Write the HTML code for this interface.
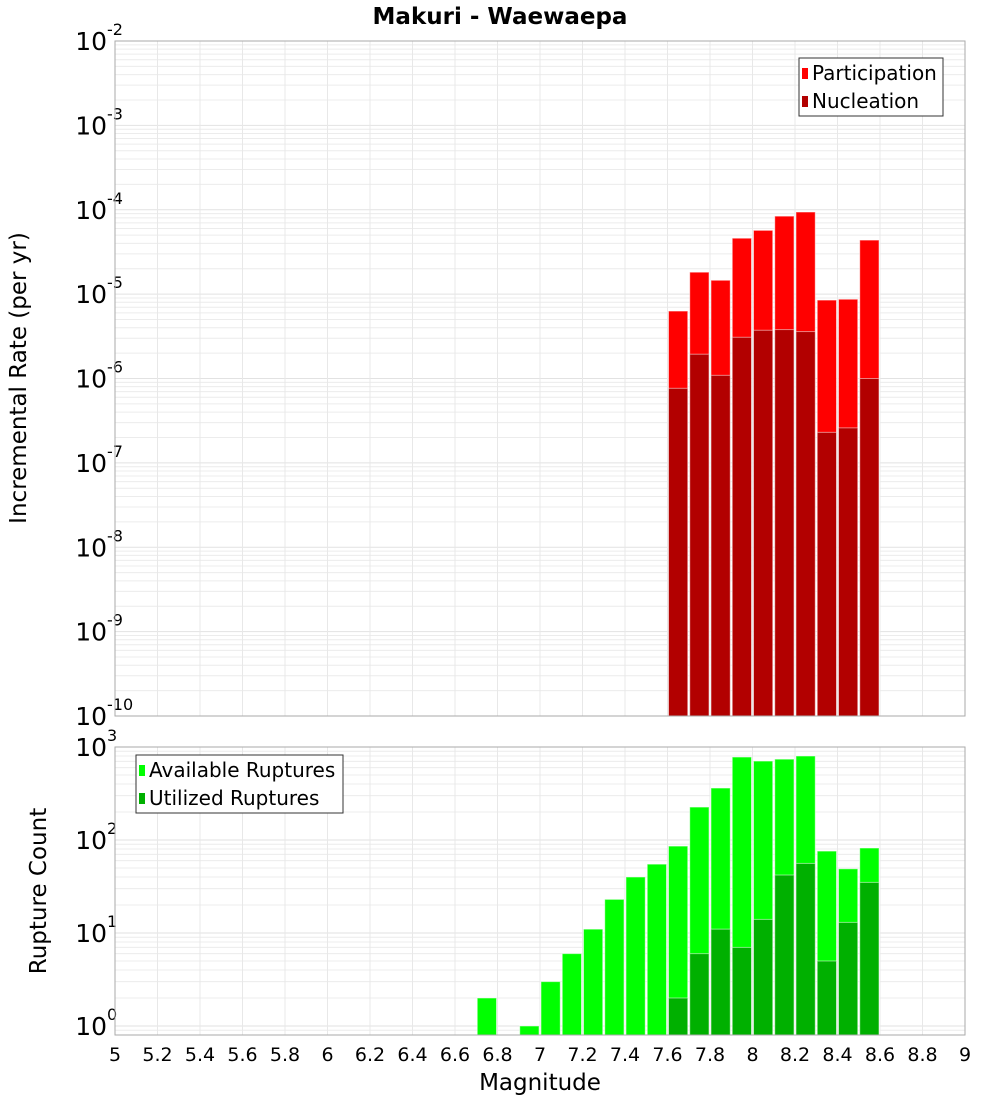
<!DOCTYPE html>
<html><head><meta charset="utf-8"><style>
body{margin:0;background:#fff;}
svg{display:block;font-family:"DejaVu Sans","Liberation Sans",sans-serif;}
</style></head><body>
<svg id="c" width="1000" height="1100" viewBox="0 0 1000 1100" xmlns="http://www.w3.org/2000/svg">
<text x="500" y="24" text-anchor="middle" font-size="23" font-weight="bold">Makuri - Waewaepa</text>
<text transform="translate(26,378) rotate(-90)" text-anchor="middle" font-size="23">Incremental Rate (per yr)</text>
<text transform="translate(46,891) rotate(-90)" text-anchor="middle" font-size="23">Rupture Count</text>
<text x="540" y="1090" text-anchor="middle" font-size="23">Magnitude</text>
<g id="top"></g><g id="bot"></g>
</svg>
<script>
const bins=[7.6,7.7,7.8,7.9,8.0,8.1,8.2,8.3,8.4,8.5];
const participation=[6.3e-6,1.82e-5,1.46e-5,4.6e-5,5.7e-5,8.4e-5,9.4e-5,8.5e-6,8.7e-6,4.37e-5];
const nucleation=[7.65e-7,1.94e-6,1.09e-6,3.08e-6,3.73e-6,3.8e-6,3.6e-6,2.3e-7,2.6e-7,1.0e-6];
const countBins=[6.7,6.9,7.0,7.1,7.2,7.3,7.4,7.5,7.6,7.7,7.8,7.9,8.0,8.1,8.2,8.3,8.4,8.5];
const available=[2,1,3,6,11,23,40,55,86,226,362,780,706,740,800,76,49,82];
const utilBins=[7.6,7.7,7.8,7.9,8.0,8.1,8.2,8.3,8.4,8.5];
const utilized=[2,6,11,7,14,42,56,5,13,35];
const xTicks=[5,5.2,5.4,5.6,5.8,6,6.2,6.4,6.6,6.8,7,7.2,7.4,7.6,7.8,8,8.2,8.4,8.6,8.8,9];
const topExp=[-2,-3,-4,-5,-6,-7,-8,-9,-10];
const botExp=[3,2,1,0];

const NS="http://www.w3.org/2000/svg";
const L=115,R=965;
const x=m=>L+(m-5)/4*(R-L);
function el(p,t,a){const e=document.createElementNS(NS,t);for(const k in a)e.setAttribute(k,a[k]);p.appendChild(e);return e;}
function panel(g,top,bot,yFn,loE,hiE,exps,name){
  for(let e=loE;e<hiE;e++)for(let k=1;k<10;k++){const yy=yFn(k*Math.pow(10,e));if(yy<top-0.5||yy>bot+0.5)continue;
    const ln=el(g,'line',{x1:L,x2:R,y1:yy,y2:yy,stroke:k==1?'#e2e2e2':'#ececec','stroke-width':1});
    }
  xTicks.forEach(t=>{const ln=el(g,'line',{x1:x(t),x2:x(t),y1:top,y2:bot,stroke:'#e8e8e8'});
    });
  exps.forEach(e=>{const yy=yFn(Math.pow(10,e));
    const t=el(g,'text',{x:107,y:yy+9,'text-anchor':'end','font-size':25});
    
    t.textContent='10';
    const s=el(g,'text',{x:107,y:yy-6,'font-size':16});
    
    s.textContent=String(e);});
}
function bars(g,bs,vals,yFn,base,color,name){
  bs.forEach((b,i)=>{const x0=x(b),x1=x(b+0.1),yy=yFn(vals[i]);
    const r=el(g,'rect',{x:x0+1,y:yy,width:x1-x0-2,height:base-yy,fill:color,stroke:'#fff','stroke-opacity':0.5,'stroke-width':1});
    });
}
function frame(g,top,bot,name){const r=el(g,'rect',{x:L,y:top,width:R-L,height:bot-top,fill:'none',stroke:'#aaa'});
  }
function legend(g,bx,by,w,items,name){
  const b=el(g,'rect',{x:bx,y:by,width:w,height:58,fill:'#fff',stroke:'#333'});
  
  items.forEach((it,i)=>{const s=el(g,'rect',{x:bx+3,y:by+10+i*28,width:6,height:11,fill:it[1]});
    
    const t=el(g,'text',{x:bx+13,y:by+22+i*28,'font-size':20});
    t.textContent=it[0];});
}
const gt=document.getElementById('top'),T0=41,T1=716;
const yt=v=>T0+(-2-Math.log10(v))*(T1-T0)/8;
panel(gt,T0,T1,yt,-10,-2,topExp,'top');
bars(gt,bins,participation,yt,T1,'#ff0000','participation-bar');
bars(gt,bins,nucleation,yt,T1,'#b20000','nucleation-bar');
frame(gt,T0,T1,'top');
legend(gt,799,58,144,[['Participation','#ff0000'],['Nucleation','#b20000']],'top-legend');
const gb=document.getElementById('bot'),B0=747,B1=1035;
const yb=v=>1026-Math.log10(v)*93;
panel(gb,B0,B1,yb,-1,3,botExp,'bottom');
bars(gb,countBins,available,yb,B1,'#00ff00','available-bar');
bars(gb,utilBins,utilized,yb,B1,'#00b000','utilized-bar');
frame(gb,B0,B1,'bottom');
legend(gb,136,755,207,[['Available Ruptures','#00ff00'],['Utilized Ruptures','#00b000']],'bottom-legend');
xTicks.forEach(t=>{const e=el(gb,'text',{x:x(t),y:1061,'text-anchor':'middle','font-size':19});
  e.textContent=String(t);});
</script>
</body></html>
